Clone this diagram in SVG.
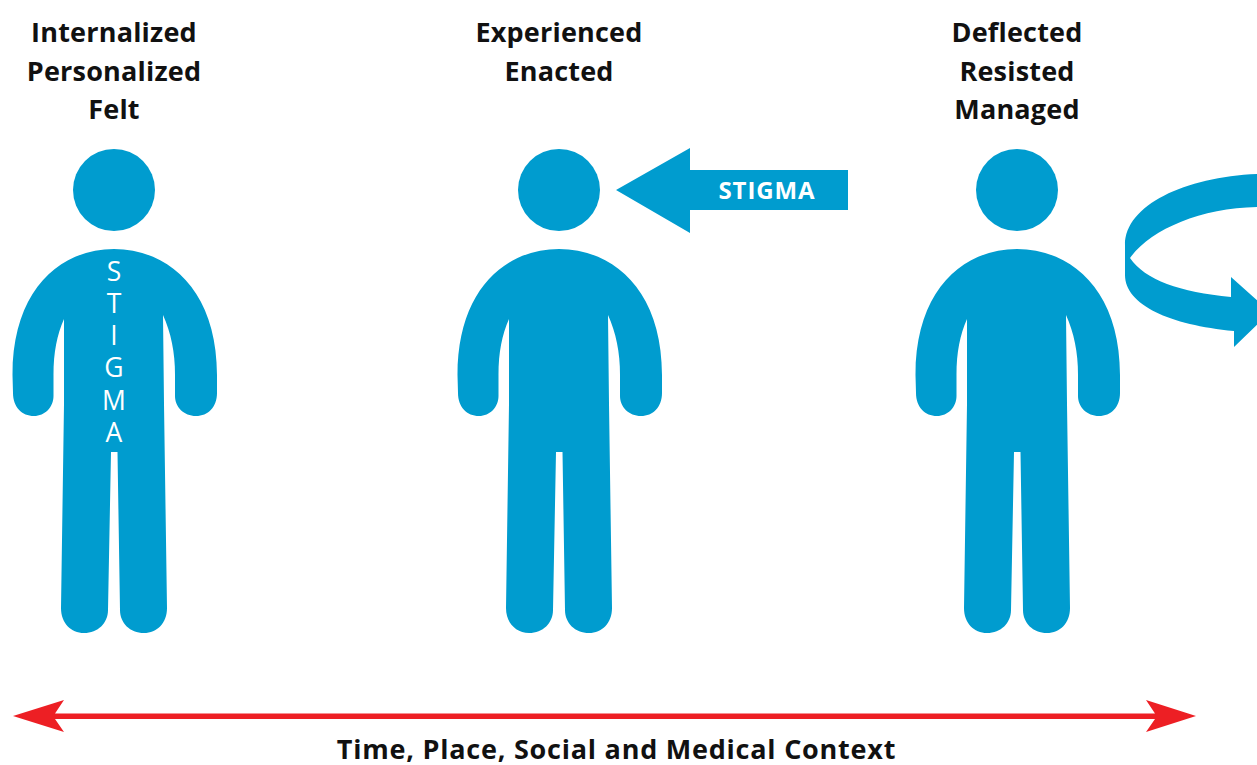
<svg xmlns="http://www.w3.org/2000/svg" width="1257" height="765" viewBox="0 0 1257 765">
<style>
.b{fill:#009ccf}
.t{font-family:"Open Sans","Liberation Sans",sans-serif;font-weight:700;font-size:27px;letter-spacing:.2px;fill:#111;text-anchor:middle}
.s{font-family:"Open Sans","Liberation Sans",sans-serif;font-weight:400;font-size:26.5px;fill:#fff;text-anchor:middle}
.r{fill:#ed1f24}
</style>
<defs>
<g id="person">
<circle class="b" cx="114" cy="190" r="41"/>
<path class="b" d="M114 249C168 249 217 290 217 375L217 393C217 407 208 416 196 416C184 416 175 407 175 396L175 375C175 352 171 333 163 315L164 404L167 608C167 623 157 633 144 633C130 633 120 623 120 610L117.500 452L111 452L108 610C108 623 98 633 84 633C71 633 61 623 61 608L64 404L64 319C57 335 53.500 352 53.500 375L53.500 396C53.500 407 45 416 34 416C22 416 13 407 13 393L12.500 375C12.500 290 60 249 114 249Z"/>
</g>
</defs>
<g id="node-internalized">
<use href="#person"/>
<text class="t" x="114" y="42">Internalized</text>
<text class="t" x="114" y="81">Personalized</text>
<text class="t" x="114" y="119">Felt</text>
<text class="s"><tspan x="114" y="281">S</tspan><tspan x="114" y="313">T</tspan><tspan x="114" y="345">I</tspan><tspan x="114" y="377">G</tspan><tspan x="114" y="410">M</tspan><tspan x="114" y="442">A</tspan></text>
</g>
<g id="node-experienced">
<use href="#person" x="445"/>
<text class="t" x="559" y="42">Experienced</text>
<text class="t" x="559" y="81">Enacted</text>
</g>
<g id="node-deflected">
<use href="#person" x="903"/>
<text class="t" x="1017" y="42">Deflected</text>
<text class="t" x="1017" y="81">Resisted</text>
<text class="t" x="1017" y="119">Managed</text>
</g>
<g id="connectors">
<g id="stigma-arrow">
<path class="b" d="M616 190L690 148L690 170L848 170L848 210L690 210L690 233Z"/>
<text x="767" y="199" style="font-family:'Open Sans','Liberation Sans',sans-serif;font-weight:700;font-size:24px;letter-spacing:.9px;fill:#fff;text-anchor:middle">STIGMA</text>
</g>
<path id="deflect-arrow" class="b" d="M1257 174C1185 177 1125 205 1125 245L1125 275C1125 305 1170 325 1234 331L1234 347L1270 312L1231 277L1231 297C1180 292 1145 280 1130 258C1150 230 1200 208 1257 207Z"/>
<path id="context-arrow" class="r" d="M13 716L64 700L55 713.500L1155 713.500L1146 700L1196 716L1146 732L1155 719L55 719L64 732Z"/>
</g>
<text id="context-label" class="t" style="letter-spacing:.77px" x="616.500" y="759">Time, Place, Social and Medical Context</text>
</svg>
